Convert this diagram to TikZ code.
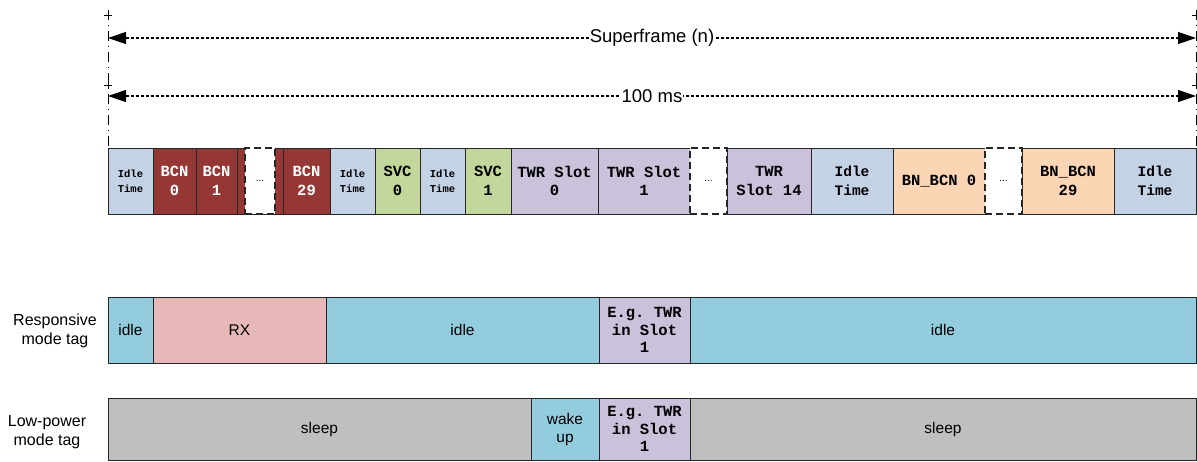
\documentclass[tikz,border=0pt]{standalone}
\usepackage{fontspec}
\setmainfont{Liberation Sans}
\setmonofont{Liberation Mono}
\usepackage{tikz}
\usetikzlibrary{arrows.meta}
\usepackage{xcolor}
\definecolor{idlecol}{RGB}{195,210,228}
\definecolor{bcncol}{RGB}{149,55,53}
\definecolor{svccol}{RGB}{195,214,155}
\definecolor{twrcol}{RGB}{204,193,218}
\definecolor{bncol}{RGB}{252,213,181}
\definecolor{tidlecol}{RGB}{147,205,221}
\definecolor{rxcol}{RGB}{230,185,184}
\definecolor{sleepcol}{RGB}{191,191,191}

\begin{document}
\begin{tikzpicture}[
  x=1pt, y=-1pt,
  slot/.style={rectangle, draw=black!85, line width=0.9pt, fill=#1,
               inner sep=0pt, outer sep=0pt, minimum height=66pt, align=center,
               font=\fontsize{15.5}{18.5}\selectfont\ttfamily\bfseries},
  slot/.default={white},
  smallidle/.style={font=\fontsize{10.5}{14.5}\selectfont\ttfamily\bfseries},
  wideidle/.style={font=\fontsize{14.5}{18.5}\selectfont\ttfamily\bfseries},
  gapbox/.style={slot=white, dash pattern=on 7pt off 4pt, line width=1.3pt,
                 font=\fontsize{10}{12}\selectfont},
  tag/.style={rectangle, draw=black!85, line width=1pt, fill=#1,
              inner sep=0pt, outer sep=0pt, minimum height=66pt, align=center,
              font=\fontsize{15.5}{18}\selectfont},
  tagtwr/.style={tag=twrcol, font=\fontsize{15.5}{17.5}\selectfont\ttfamily\bfseries},
  rowlabel/.style={align=center, font=\fontsize{16}{18.5}\selectfont},
  dimarr/.style={{Triangle[length=18pt,width=12pt]}-{Triangle[length=18pt,width=12pt]},
                 line width=1.1pt, dash pattern=on 3pt off 2pt},
  dimlabel/.style={fill=white, inner sep=1pt, font=\fontsize{18.5}{21}\selectfont},
  extline/.style={line width=0.9pt, dash pattern=on 10pt off 5pt on 1pt off 5pt},
  plusmark/.style={line width=0.9pt},
]
  \useasboundingbox (0,0) rectangle (1197,461);

  % Superframe slots
  \node[slot=idlecol, minimum width=45pt, smallidle] (idle0) at (130.5,181) {Idle\\Time};
  \node[slot=bcncol, text=white, minimum width=43pt] (bcn0) at (174.5,181) {BCN\\0};
  \node[slot=bcncol, text=white, minimum width=41pt] (bcn1) at (216.5,181) {BCN\\1};
  \node[slot=bcncol, minimum width=46pt] (bcnfill) at (260,181) {};
  \node[gapbox, minimum width=30pt] (gap0) at (260,181) {...};
  \node[slot=bcncol, text=white, minimum width=47pt] (bcn29) at (306.5,181) {BCN\\29};
  \node[slot=idlecol, minimum width=45pt, smallidle] (idle1) at (352.5,181) {Idle\\Time};
  \node[slot=svccol, minimum width=45pt] (svc0) at (397.5,181) {SVC\\0};
  \node[slot=idlecol, minimum width=45pt, smallidle] (idle2) at (442.5,181) {Idle\\Time};
  \node[slot=svccol, minimum width=46pt] (svc1) at (488,181) {SVC\\1};
  \node[slot=twrcol, minimum width=87pt] (twr0) at (554.5,181) {TWR Slot\\0};
  \node[slot=twrcol, minimum width=92pt] (twr1) at (644,181) {TWR Slot\\1};
  \node[gapbox, minimum width=37pt] (gap1) at (708.5,181) {...};
  \node[slot=twrcol, minimum width=84pt] (twr14) at (769,181) {TWR\\Slot 14};
  \node[slot=idlecol, minimum width=82pt, wideidle] (idle3) at (852,181) {Idle\\Time};
  \node[slot=bncol, minimum width=92pt] (bn0) at (939,181) {BN\_BCN 0};
  \node[gapbox, minimum width=37pt] (gap2) at (1003.5,181) {...};
  \node[slot=bncol, minimum width=92pt] (bn29) at (1068,181) {BN\_BCN\\29};
  \node[slot=idlecol, minimum width=82pt, wideidle] (idle4) at (1155,181) {Idle\\Time};

  % Dimension lines
  \coordinate (extL) at (108,10);
  \coordinate (extR) at (1196,10);
  \draw[extline] (extL) -- (idle0.north west);
  \draw[extline] (extR) -- (idle4.north east);
  \foreach \py in {15,85} {
    \draw[plusmark] (108,\py) +(-4,0) -- +(4,0) +(0,-4) -- +(0,4);
    \draw[plusmark] (1196,\py) +(-4,0) -- +(4,0) +(0,-4) -- +(0,4);
  }
  \coordinate (sfL) at (108,38);
  \coordinate (sfR) at (1196,38);
  \coordinate (msL) at (108,96);
  \coordinate (msR) at (1196,96);
  \draw[dimarr] (sfL) -- node[dimlabel] (sflabel) {Superframe (n)} (sfR);
  \draw[dimarr] (msL) -- node[dimlabel] (mslabel) {100 ms} (msR);

  % Responsive mode tag
  \node[rowlabel] (lresp) at (55,331) {Responsive\\mode tag};
  \node[tag=tidlecol, minimum width=45pt] (ridle0) at (130.5,330) {idle};
  \node[tag=rxcol, minimum width=173pt] (rx) at (239.5,330) {RX};
  \node[tag=tidlecol, minimum width=273pt] (ridle1) at (462.5,330) {idle};
  \node[tagtwr, minimum width=91pt] (rtwr) at (644.5,330) {E.g. TWR\\in Slot\\1};
  \node[tag=tidlecol, minimum width=506pt] (ridle2) at (943,330) {idle};

  % Low-power mode tag
  \node[rowlabel] (llow) at (47,432) {Low-power\\mode tag};
  \node[tag=sleepcol, minimum width=423pt, minimum height=62pt] (sleep0) at (319.5,429) {sleep};
  \node[tag=tidlecol, minimum width=68pt, minimum height=62pt] (wake) at (565,429) {wake\\up};
  \node[tagtwr, minimum width=91pt, minimum height=62pt] (ltwr) at (644.5,429) {E.g. TWR\\in Slot\\1};
  \node[tag=sleepcol, minimum width=506pt, minimum height=62pt] (sleep1) at (943,429) {sleep};

\end{tikzpicture}
\end{document}
